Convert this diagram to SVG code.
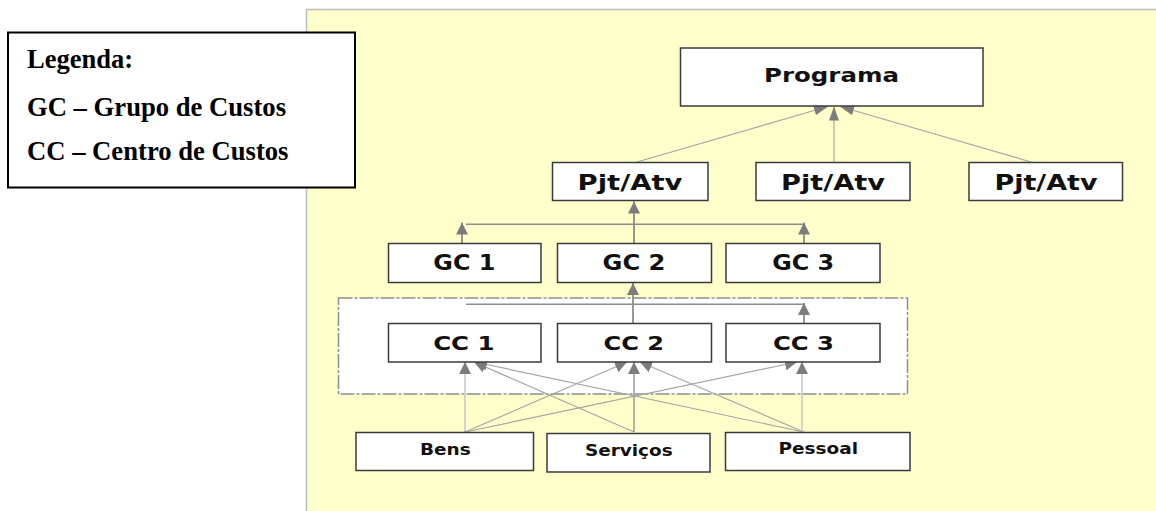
<svg xmlns="http://www.w3.org/2000/svg" width="1156" height="511" viewBox="0 0 1156 511">
  <defs>
    <marker id="head" markerUnits="userSpaceOnUse" markerWidth="12" markerHeight="12" refX="12" refY="6" orient="auto">
      <path d="M0,0 L12,6 L0,12 z" fill="#7c7c7c"/>
    </marker>
    <marker id="headSlim" markerUnits="userSpaceOnUse" markerWidth="14" markerHeight="10" refX="14" refY="5" orient="auto">
      <path d="M0,0 L14,5 L0,10 z" fill="#7c7c7c"/>
    </marker>
    <style>
      .box { fill: #ffffff; stroke: #3a3a3a; stroke-width: 1.5; }
      .lbl { font-family: "DejaVu Sans", Verdana, sans-serif; font-weight: bold; fill: #111111; text-anchor: middle; }
      .leg { font-family: "Liberation Serif", "Times New Roman", serif; font-weight: bold; fill: #000000; }
      .link { fill: none; stroke: #a6a6a6; stroke-width: 1.2; }
      .trunk { fill: none; stroke: #8c8c8c; stroke-width: 1.8; }
      .pale { fill: none; stroke: #c8c8c8; stroke-width: 1.6; }
    </style>
  </defs>

  <!-- page background -->
  <rect x="0" y="0" width="1156" height="511" fill="#ffffff"/>
  <rect id="canvas" x="306.5" y="9.5" width="851" height="503" fill="#ffffcc" stroke="#bdbdbd" stroke-width="1.5"/>

  <!-- cost-centre container -->
  <rect id="cc-group" x="338.5" y="298" width="569" height="96" fill="#ffffff" stroke="#909090" stroke-width="1.5" stroke-dasharray="14 2 3 2"/>

  <!-- connectors -->
  <g id="connectors">
    <line class="link" x1="637" y1="162" x2="828" y2="106.5" marker-end="url(#headSlim)"/>
    <line class="link" x1="834" y1="162" x2="834" y2="106.5" marker-end="url(#headSlim)"/>
    <line class="link" x1="1031" y1="162" x2="840" y2="106.5" marker-end="url(#headSlim)"/>

    <line class="trunk" x1="634" y1="243" x2="634" y2="201.5" marker-end="url(#head)"/>
    <line class="trunk" x1="466" y1="224.3" x2="805" y2="224.3" style="stroke-width:1.4"/>
    <line class="trunk" x1="462" y1="243" x2="462" y2="222.5" marker-end="url(#head)"/>
    <line class="trunk" x1="804" y1="243" x2="804" y2="222.5" marker-end="url(#head)"/>

    <line class="trunk" x1="633" y1="323" x2="633" y2="283" marker-end="url(#head)"/>
    <line class="trunk" x1="466" y1="304.3" x2="804" y2="304.3" style="stroke-width:1.4"/>
    <line class="trunk" x1="804" y1="323" x2="804" y2="303" marker-end="url(#head)"/>

    <line class="pale" x1="465" y1="432" x2="465" y2="362" marker-end="url(#head)"/>
    <line class="link" x1="465" y1="432" x2="627" y2="362" marker-end="url(#head)"/>
    <line class="link" x1="465" y1="432" x2="797" y2="362" marker-end="url(#head)"/>
    <line class="link" x1="634" y1="432" x2="474" y2="362" marker-end="url(#head)"/>
    <line class="trunk" x1="634" y1="432" x2="634" y2="362" marker-end="url(#head)" style="stroke-width:1.3"/>
    <line class="link" x1="804" y1="432" x2="475" y2="362" marker-end="url(#head)"/>
    <line class="link" x1="804" y1="432" x2="640" y2="362" marker-end="url(#head)"/>
    <line class="pale" x1="802" y1="432" x2="802" y2="362" marker-end="url(#head)"/>
  </g>

  <!-- legend -->
  <g id="legend">
    <rect x="8" y="32.5" width="347" height="155" fill="#ffffff" stroke="#000000" stroke-width="2"/>
    <text class="leg" x="27" y="68" font-size="28" textLength="106" lengthAdjust="spacingAndGlyphs">Legenda:</text>
    <text class="leg" x="27" y="115.5" font-size="28" textLength="259" lengthAdjust="spacingAndGlyphs">GC – Grupo de Custos</text>
    <text class="leg" x="27" y="159.5" font-size="28" textLength="261.5" lengthAdjust="spacingAndGlyphs">CC – Centro de Custos</text>
  </g>

  <!-- top level -->
  <g id="programa">
    <rect class="box" x="680.5" y="48" width="302.5" height="58"/>
    <text class="lbl" x="831.5" y="82" font-size="19.5" textLength="135" lengthAdjust="spacingAndGlyphs">Programa</text>
  </g>

  <!-- projects / activities -->
  <g id="pjt1">
    <rect class="box" x="552.5" y="162.5" width="155.5" height="38"/>
    <text class="lbl" x="630" y="189.5" font-size="21" textLength="105" lengthAdjust="spacingAndGlyphs">Pjt/Atv</text>
  </g>
  <g id="pjt2">
    <rect class="box" x="756" y="162.5" width="154" height="38"/>
    <text class="lbl" x="833" y="189.5" font-size="21" textLength="104" lengthAdjust="spacingAndGlyphs">Pjt/Atv</text>
  </g>
  <g id="pjt3">
    <rect class="box" x="969" y="162.5" width="153.5" height="38"/>
    <text class="lbl" x="1046" y="189.5" font-size="21" textLength="103" lengthAdjust="spacingAndGlyphs">Pjt/Atv</text>
  </g>

  <!-- cost groups -->
  <g id="gc1">
    <rect class="box" x="388.5" y="243.5" width="152.5" height="39"/>
    <text class="lbl" x="464.3" y="269.5" font-size="20.5" textLength="62" lengthAdjust="spacingAndGlyphs">GC 1</text>
  </g>
  <g id="gc2">
    <rect class="box" x="557.5" y="243.5" width="154" height="39"/>
    <text class="lbl" x="634" y="269.5" font-size="20.5" textLength="63" lengthAdjust="spacingAndGlyphs">GC 2</text>
  </g>
  <g id="gc3">
    <rect class="box" x="726" y="243.5" width="154" height="39"/>
    <text class="lbl" x="803.2" y="269.5" font-size="20.5" textLength="62" lengthAdjust="spacingAndGlyphs">GC 3</text>
  </g>

  <!-- cost centres -->
  <g id="cc1">
    <rect class="box" x="388.5" y="323.5" width="152.5" height="38.5"/>
    <text class="lbl" x="463.9" y="349.5" font-size="20" textLength="61.5" lengthAdjust="spacingAndGlyphs">CC 1</text>
  </g>
  <g id="cc2">
    <rect class="box" x="557.5" y="323.5" width="154" height="38.5"/>
    <text class="lbl" x="633.8" y="349.5" font-size="20" textLength="60.5" lengthAdjust="spacingAndGlyphs">CC 2</text>
  </g>
  <g id="cc3">
    <rect class="box" x="726" y="323.5" width="154" height="38.5"/>
    <text class="lbl" x="803.5" y="349.5" font-size="20" textLength="61" lengthAdjust="spacingAndGlyphs">CC 3</text>
  </g>

  <!-- expense types -->
  <g id="bens">
    <rect class="box" x="356" y="432.5" width="177.5" height="38"/>
    <text class="lbl" x="445.3" y="454.5" font-size="15.5" textLength="50.7" lengthAdjust="spacingAndGlyphs">Bens</text>
  </g>
  <g id="servicos">
    <rect class="box" x="547" y="433.5" width="163" height="38.5"/>
    <text class="lbl" x="628.8" y="456" font-size="15.5" textLength="87.7" lengthAdjust="spacingAndGlyphs">Serviços</text>
  </g>
  <g id="pessoal">
    <rect class="box" x="725.5" y="432.5" width="184.5" height="38"/>
    <text class="lbl" x="818.3" y="454.3" font-size="15.5" textLength="79.5" lengthAdjust="spacingAndGlyphs">Pessoal</text>
  </g>
</svg>
